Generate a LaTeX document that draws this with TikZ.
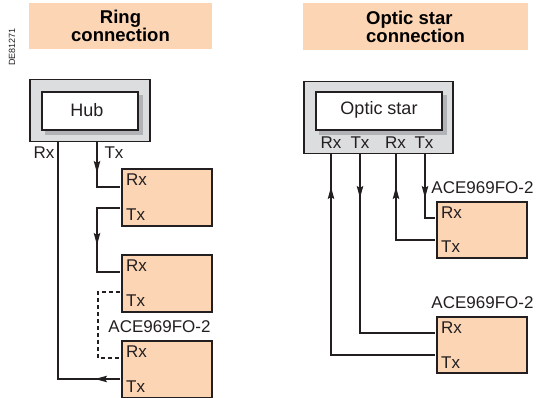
\documentclass[tikz,border=0pt]{standalone}
\usepackage{fontspec}
\setmainfont{Liberation Sans}
\usetikzlibrary{arrows.meta,decorations.markings}
\definecolor{peach}{HTML}{FCD5B5}
\definecolor{hubgray}{HTML}{DCDDDF}
\definecolor{shgray}{HTML}{B1B3B6}
\definecolor{ink}{HTML}{231F20}
\begin{document}
\begin{tikzpicture}[x=1pt,y=-1pt,
  titlebox/.style={fill=peach, inner sep=0, font=\bfseries\fontsize{18.5}{18}\selectfont},
  unitbox/.style={draw=ink, line width=1.8pt, fill=peach, minimum width=90, minimum height=57, anchor=north west, inner sep=0},
  outerbox/.style={draw=ink, line width=1.5pt, fill=hubgray, anchor=north west, inner sep=0},
  innerbox/.style={draw=ink, line width=2pt, fill=white, anchor=north west, inner sep=0, minimum height=38},
  shadowbox/.style={fill=shgray, anchor=north west, inner sep=0, minimum height=40},
  lab/.style={inner sep=0, text=ink, font=\fontsize{17}{17}\selectfont},
  conn/.style={draw=ink, line width=1.2pt},
  arrowat/.style={postaction={decorate,decoration={markings,mark=at position #1 with {\arrow[ink]{Stealth[length=12pt,width=6.5pt,inset=2pt]}}}}}
]
\useasboundingbox (0,0) rectangle (536,398);

% code
\node[rotate=90, inner sep=0, text=ink, font=\fontsize{9}{9}\selectfont] (code) at (12,47) {DE81271};

% titles
\node[titlebox, minimum width=183, minimum height=46, align=center] (t1) at (120.5,26) {Ring\\connection};
\node[titlebox, minimum width=225, minimum height=47, align=left] (t2) at (415.5,26.5) {Optic star\\connection};

% ---------- Ring ----------
\node[outerbox, minimum width=120, minimum height=62] (hubo) at (29,79) {};
\node[shadowbox, minimum width=98] (hubsh) at (45,95) {};
\node[innerbox, minimum width=96] (hub) at (41,91) {};
\node[lab, font=\fontsize{18}{18}\selectfont] (hubl) at (87,110) {Hub};
\node[lab] (hrx) at (44,153) {Rx};
\node[lab] (htx) at (114,153) {Tx};

\node[unitbox] (b1) at (121,168) {};
\node[unitbox] (b2) at (121,254) {};
\node[unitbox] (b3) at (121,340) {};
\foreach \b/\t in {b1/168,b2/254,b3/340}{
  \node[lab, anchor=west] (\b rxl) at (126,\t+12) {Rx};
  \node[lab, anchor=west] (\b txl) at (126,\t+47) {Tx};
}
\node[lab] (ace1) at (159.5,327) {ACE969FO-2};

\coordinate (hubrxp) at (58,142);
\coordinate (hubtxp) at (97,142);
\coordinate (b1rx) at (120,187);
\coordinate (b1tx) at (120,208);
\coordinate (b2rx) at (120,272);
\coordinate (b2tx) at (120,292);
\coordinate (b3rx) at (120,358);
\coordinate (b3tx) at (120,379);

\draw[conn, arrowat=31pt] (hubtxp) -- (hubtxp |- b1rx) -- (b1rx);
\draw[conn, arrowat=60pt] (b1tx) -- (97,208) -- (97,272) -- (b2rx);
\draw[conn, dashed, dash pattern=on 4pt off 3pt] (b2tx) -- (98,292) -- (98,358) -- (b3rx);
\draw[conn, arrowat=25pt] (b3tx) -- (hubrxp |- b3tx) -- (hubrxp);

% ---------- Optic star ----------
\node[outerbox, minimum width=149, minimum height=72] (staro) at (303,81) {};
\node[shadowbox, minimum width=128] (starsh) at (319,95) {};
\node[innerbox, minimum width=126] (star) at (315,91) {};
\node[lab, font=\fontsize{18}{18}\selectfont] (starl) at (379,110) {Optic star};
\node[lab] (s1) at (331,143) {Rx};
\node[lab] (s2) at (360,143) {Tx};
\node[lab] (s3) at (395.5,143) {Rx};
\node[lab] (s4) at (424,143) {Tx};

\node[unitbox, minimum height=56] (ba) at (436,201) {};
\node[unitbox, minimum height=56] (bb) at (436,316) {};
\node[lab, anchor=west] (barxl) at (441,213) {Rx};
\node[lab, anchor=west] (batxl) at (441,247) {Tx};
\node[lab, anchor=west] (bbrxl) at (441,328) {Rx};
\node[lab, anchor=west] (bbtxl) at (441,363) {Tx};
\node[lab] (ace2) at (482.5,188) {ACE969FO-2};
\node[lab] (ace3) at (482.5,303) {ACE969FO-2};

\coordinate (p1) at (331,154);
\coordinate (p2) at (360,154);
\coordinate (p3) at (396,154);
\coordinate (p4) at (425,154);
\coordinate (barx) at (435,218);
\coordinate (batx) at (435,240);
\coordinate (bbrx) at (435,333);
\coordinate (bbtx) at (435,355);

\draw[conn, arrowat=44pt] (p2) -- (p2 |- bbrx) -- (bbrx);
\draw[conn, arrowat=272pt] (bbtx) -- (p1 |- bbtx) -- (p1);
\draw[conn, arrowat=44pt] (p4) -- (p4 |- barx) -- (barx);
\draw[conn, arrowat=92pt] (batx) -- (p3 |- batx) -- (p3);
\end{tikzpicture}
\end{document}
